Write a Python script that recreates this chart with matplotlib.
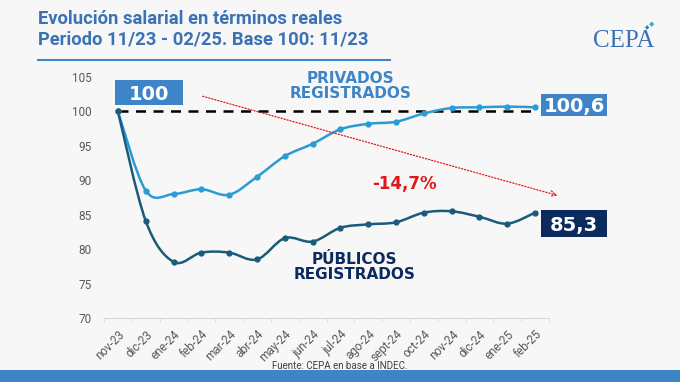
import numpy as np
import matplotlib.pyplot as plt
from matplotlib.path import Path
from matplotlib.patches import PathPatch, Rectangle


# ---   DATA   --- #
# ---------------- #
MONTHS = [
    'nov-23', 'dic-23', 'ene-24', 'feb-24', 'mar-24', 'abr-24', 'may-24',
    'jun-24', 'jul-24', 'ago-24', 'sept-24', 'oct-24', 'nov-24', 'dic-24',
    'ene-25', 'feb-25'
]
PRIVADOS = [100.0, 88.5, 88.0, 88.7, 87.9, 90.5, 93.5, 95.3, 97.4, 98.2,
            98.5, 99.7, 100.5, 100.6, 100.7, 100.6]
PUBLICOS = [100.0, 84.1, 78.15, 79.5, 79.5, 78.5, 81.6, 81.1, 83.1, 83.6,
            83.9, 85.3, 85.5, 84.7, 83.7, 85.3]
YTICKS = [70, 75, 80, 85, 90, 95, 100, 105]

# ---   STYLE   --- #
# ----------------- #
BG = '#f7f7f7'
C_PRIV = '#2a9bd3'
C_PUB = '#1b5a7a'
C_BOX = '#3d85c6'
C_NAVY = '#0b2a5e'
C_TITLE = '#3a72b5'
C_RED = '#e0161b'
HEAVY = 'DejaVu Sans'


# ---  METHODS  --- #
# ----------------- #
def smooth_path(x, y):
    # Catmull-Rom segments as cubic Bezier curves (Excel-like smoothing)
    x, y = np.asarray(x, float), np.asarray(y, float)
    pts = np.column_stack([x, y])
    ext = np.vstack([pts[0], pts, pts[-1]])
    verts, codes = [pts[0]], [Path.MOVETO]
    for i in range(len(pts) - 1):
        p0, p1, p2, p3 = ext[i], ext[i+1], ext[i+2], ext[i+3]
        c1 = p1 + (p2 - p0) / 6
        c2 = p2 - (p3 - p1) / 6
        verts += [c1, c2, p2]
        codes += [Path.CURVE4] * 3
    return Path(verts, codes)


def draw_series(ax, vals, color):
    xs = np.arange(len(vals))
    ax.add_patch(PathPatch(smooth_path(xs, vals), fill=False,
                           edgecolor=color, lw=1.8, zorder=3))
    ax.plot(xs, vals, ls='none', marker='o', ms=3.5, color=color, zorder=4)


def value_box(ax, x0, x1, y0, y1, text, fc):
    ax.add_patch(Rectangle((x0, y0), x1-x0, y1-y0, fc=fc, ec='none',
                           clip_on=False, zorder=5))
    ax.text((x0+x1)/2, (y0+y1)/2, text, color='white', fontsize=14,
            fontweight='bold', family=HEAVY, ha='center', va='center_baseline',
            zorder=6)


# ---   MAIN   --- #
# ---------------- #
if __name__ == '__main__':
    fig = plt.figure(figsize=(6.8, 3.82), dpi=100, facecolor=BG)
    ax = fig.add_axes([104/680, 64/382, 445/680, 241/382], facecolor=BG)

    # Series
    draw_series(ax, PRIVADOS, C_PRIV)
    draw_series(ax, PUBLICOS, C_PUB)
    ax.plot([0, len(MONTHS)-1], [100, 100], color='black', lw=1.8,
            ls=(0, (4, 3)), zorder=2)

    # Axes formatting
    ax.set_xlim(-0.5, len(MONTHS)-0.5)
    ax.set_ylim(70, 105)
    ax.set_yticks(YTICKS)
    ax.set_yticklabels([str(v) for v in YTICKS], family='Roboto')
    ax.set_xticks(range(len(MONTHS)))
    ax.set_xticklabels(MONTHS, rotation=45, ha='right', rotation_mode='anchor',
                       family='Roboto')
    ax.set_xticks(np.arange(-0.5, len(MONTHS)), minor=True)
    ax.tick_params(axis='x', which='major', length=0, pad=7,
                   labelsize=8.5, labelcolor='#595959')
    ax.tick_params(axis='x', which='minor', length=3, color='#d9d9d9')
    ax.tick_params(axis='y', length=0, pad=9, labelsize=8.5,
                   labelcolor='#595959')
    for side in ['top', 'right', 'left']:
        ax.spines[side].set_visible(False)
    ax.spines['bottom'].set_color('#d9d9d9')

    # Annotations
    value_box(ax, -0.11, 2.34, 100.87, 104.56, '100', C_BOX)
    value_box(ax, 15.2, 17.6, 99.4, 102.6, '100,6', C_BOX)
    value_box(ax, 15.2, 17.6, 81.8, 85.75, '85,3', C_NAVY)
    ax.text(8.35, 103.7, 'PRIVADOS\nREGISTRADOS', color=C_BOX, fontsize=11,
            fontweight='bold', family=HEAVY, ha='center', va='center',
            linespacing=1.05)
    ax.text(8.5, 77.4, 'PÚBLICOS\nREGISTRADOS', color=C_NAVY, fontsize=11,
            fontweight='bold', family=HEAVY, ha='center', va='center',
            linespacing=1.05)
    ax.text(10.3, 89.4, '-14,7%', color=C_RED, fontsize=12,
            fontweight='bold', family=HEAVY, ha='center', va='center')
    ax.annotate('', xy=(15.8, 87.8), xytext=(3.05, 102.2),
                annotation_clip=False,
                arrowprops=dict(arrowstyle='->', color=C_RED, lw=0.9,
                                ls=(0, (1, 1.5)), shrinkA=0, shrinkB=0))

    # Header
    fig.text(38/680, 1-19/382, 'Evolución salarial en términos reales',
             color=C_TITLE, fontsize=13.2, fontweight='bold', family='Roboto',
             va='center')
    fig.text(38/680, 1-40/382, 'Periodo 11/23 - 02/25. Base 100: 11/23',
             color=C_TITLE, fontsize=13.2, fontweight='bold', family='Roboto',
             va='center')
    fig.add_artist(plt.Line2D([38/680, 390/680], [1-60/382, 1-60/382],
                              color=C_BOX, lw=1.5))
    fig.text(624/680, 1-41/382, 'CEPA', color=C_TITLE, fontsize=18,
             family='Liberation Serif', ha='center', va='center')
    fig.text(652/680, 1-24/382, '◆', color='#3aaed8', fontsize=5,
             ha='center', va='center')
    fig.text(647/680, 1-28/382, '◆', color='#2a7fb0', fontsize=4,
             ha='center', va='center')

    # Footer
    fig.text(340/680, 1-366/382, 'Fuente: CEPA en base a INDEC.',
             color='#404040', fontsize=7, family='Roboto',
             ha='center', va='center')
    fig.add_artist(Rectangle((0, 0), 1, 12/382, transform=fig.transFigure,
                             fc=C_BOX, ec='none'))

    plt.savefig('out.png', dpi=100, facecolor=BG)
